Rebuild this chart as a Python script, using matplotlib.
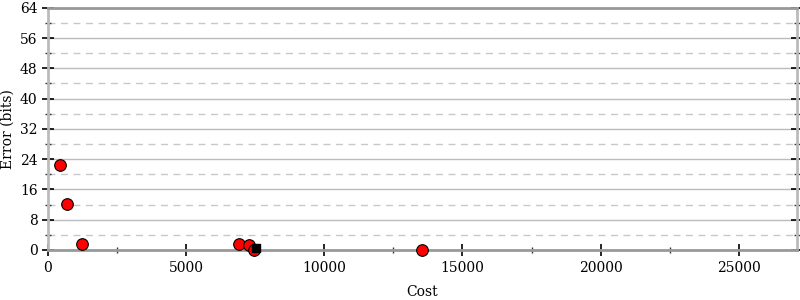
import matplotlib
matplotlib.use("Agg")
from matplotlib import pyplot as plt
from matplotlib.ticker import MultipleLocator

plt.rcParams['font.family'] = ['DejaVu Serif']

# pontos vermelhos (custo, erro)
cost = [435, 690, 1230, 6920, 7280, 7470, 13520]
error = [22.5, 12.1, 1.5, 1.5, 1.4, 0.1, 0.0]
# ponto preto (programa inicial)
start_cost = [7520]
start_error = [0.6]

fig = plt.figure(figsize=(8, 3), dpi=100)
ax = fig.add_axes([0.06, 0.167, 0.936, 0.807])

ax.scatter(cost, error, s=70, c='red', edgecolors='black', linewidths=0.8, zorder=3, clip_on=False)
ax.scatter(start_cost, start_error, s=40, c='black', marker='s', zorder=4, clip_on=False)

ax.set_xlim(0, 27100)
ax.set_ylim(0, 64)
ax.xaxis.set_major_locator(MultipleLocator(5000))
ax.xaxis.set_minor_locator(MultipleLocator(2500))
ax.yaxis.set_major_locator(MultipleLocator(8))
ax.yaxis.set_minor_locator(MultipleLocator(4))

ax.grid(which='major', axis='y', color='#bbbbbb', linewidth=1, linestyle='-')
ax.grid(which='minor', axis='y', color='#c8c8c8', linewidth=1, linestyle=(0, (5, 4)))
ax.set_axisbelow(True)

ax.spines['left'].set_color('#bbbbbb')
ax.spines['right'].set_color('#bbbbbb')
ax.spines['top'].set_color('#999999')
ax.spines['bottom'].set_color('#999999')
for s in ax.spines.values():
    s.set_linewidth(2)

ax.tick_params(axis='y', which='major', direction='inout', length=8, width=1.2, color='black',
               left=True, right=True, labelsize=10)
ax.tick_params(axis='y', which='minor', direction='inout', length=5, width=1, color='#333333',
               left=True, right=True)
ax.tick_params(axis='x', which='major', direction='inout', length=8, width=1.2, color='black',
               labelsize=10, pad=4)
ax.tick_params(axis='x', which='minor', direction='inout', length=5, width=1, color='#333333')

ax.set_xlabel('Cost', fontsize=10, labelpad=7)
ax.set_ylabel('Error (bits)', fontsize=10)
ax.yaxis.set_label_coords(-0.044, 0.5)

fig.savefig('out.png', dpi=100)
